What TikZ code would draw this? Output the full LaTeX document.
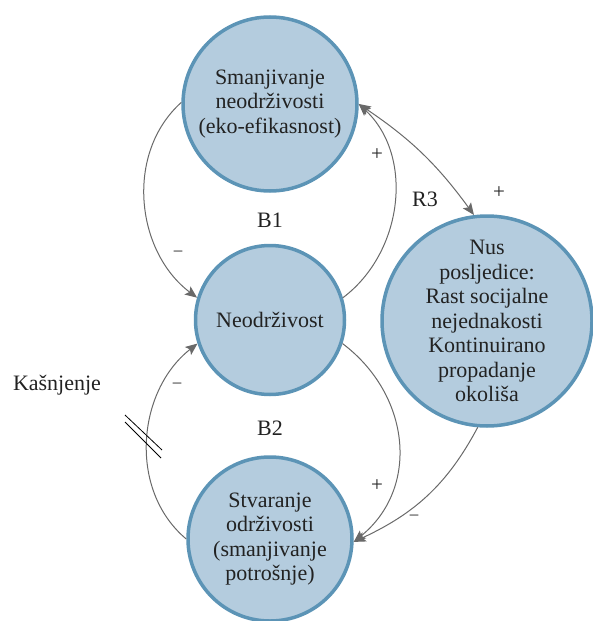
\documentclass[tikz,border=0pt]{standalone}
\usepackage{fontspec}
\setmainfont{Liberation Serif}
\usetikzlibrary{arrows.meta}
\definecolor{nodefill}{RGB}{180,204,222}
\definecolor{nodeedge}{RGB}{92,148,182}
\definecolor{linkgray}{RGB}{105,105,105}
\definecolor{ink}{RGB}{34,34,34}
\begin{document}
\begin{tikzpicture}[x=1pt,y=1pt,
  var/.style={circle, draw=nodeedge, fill=nodefill, line width=3.5pt, inner sep=0pt,
    align=center, text=ink, font=\fontsize{22}{24.5}\selectfont},
  tip/.tip={Stealth[length=12pt,width=10pt,inset=2.5pt]},
  link/.style={draw=linkgray, line width=1pt, -tip},
  plus/.style={text=ink, inner sep=0pt, font=\fontsize{21}{21}\selectfont},
  minus/.style={text=ink, inner sep=0pt, font=\fontsize{17}{17}\selectfont},
  caption/.style={text=ink, inner sep=0pt, anchor=base, font=\fontsize{22}{24}\selectfont}
]
\useasboundingbox (0,0) rectangle (593,-621);

% variables
\node[var, minimum size=174pt] (eff)  at (270,-104) {Smanjivanje\\neodrživosti\\(eko-efikasnost)};
\node[var, minimum size=149pt] (uns)  at (270,-320) {Neodrživost};
\node[var, minimum size=164pt] (suf)  at (270,-539) {Stvaranje\\održivosti\\(smanjivanje\\potrošnje)};
\node[var, minimum size=210pt] (side) at (487,-321) {Nus\\posljedice:\\Rast socijalne\\nejednakosti\\Kontinuirano\\propadanje\\okoliša};

% causal links
\draw[link] (eff.179) to[out=222,in=143] (uns.163);
\draw[link] (uns.17) to[out=37,in=317] (eff.east);
\draw[link, tip-tip] (eff.east) to[bend left=10] (side.97);
\draw[link] (uns.342) to[out=323,in=39,looseness=1.1] (suf.358);
\draw[link] (side.265) to[out=242,in=25] (suf.358);
\draw[link] (suf.180) to[out=140,in=218] (uns.198);

% polarities
\node[minus] (p1) at (178,-253) {–};
\node[plus]  (p2) at (377,-155) {+};
\node[plus]  (p3) at (499,-193) {+};
\node[plus]  (p4) at (377,-486) {+};
\node[minus] (p5) at (414,-517) {–};
\node[minus] (p6) at (177,-385) {–};

% loop names and delay
\node[caption] (b1) at (270,-227) {B1};
\node[caption] (b2) at (270,-435) {B2};
\node[caption] (r3) at (425,-206) {R3};
\node[caption] (delay) at (57,-390) {Kašnjenje};
\draw[black, line width=0.8pt] (125,-415) -- (162,-450);
\draw[black, line width=0.8pt] (125,-422) -- (161,-458);
\end{tikzpicture}
\end{document}
